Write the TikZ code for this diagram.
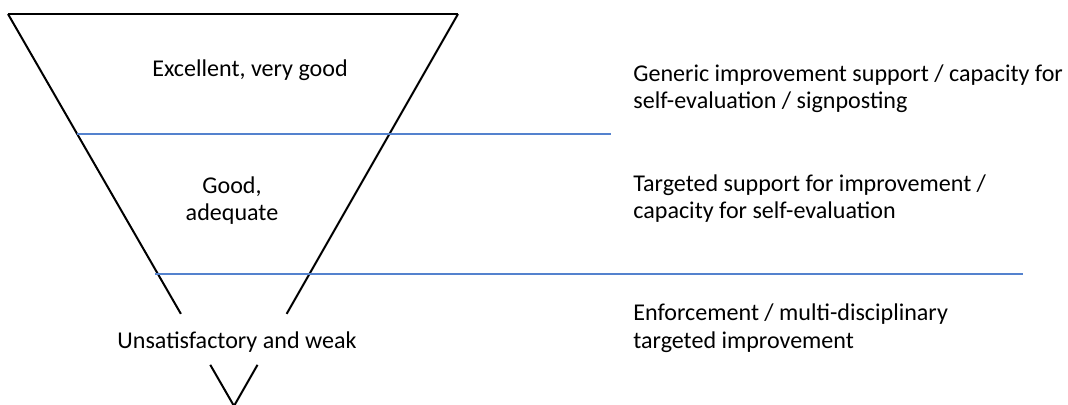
\documentclass[tikz,border=0pt]{standalone}
\usepackage{fontspec}
\setmainfont{Carlito}
\usetikzlibrary{calc}
\definecolor{bandline}{RGB}{84,130,206}
\begin{document}
\begin{tikzpicture}[x=0.2mm,y=-0.2mm,
    edge/.style={line width=0.4mm},
    band/.style={bandline,line width=0.35mm},
    lbl/.style={inner sep=0pt,font=\fontsize{13.7}{15.9}\selectfont},
    note/.style={lbl,anchor=base west,align=left}]
    \useasboundingbox (0,0) rectangle (1068,405);
    % Funnel
    \coordinate (tl) at (8,14);
    \coordinate (tr) at (458,14);
    \coordinate (apex) at (234,406);
    \draw[edge] (tl) -- (tr);
    \draw[edge] (tl) -- ($(tl)!0.765!(apex)$);
    \draw[edge] (tr) -- ($(tr)!0.765!(apex)$);
    \draw[edge] ($(tl)!0.895!(apex)$) -- (apex) -- ($(tr)!0.895!(apex)$);
    % Band lines
    \draw[band] (77,134) -- (611,134);
    \draw[band] (155,274) -- (1023,274);
    % Levels (base anchor sits on the last line)
    \node[lbl,anchor=base] (excellent) at (250,77) {Excellent, very good};
    \node[lbl,anchor=base,align=center] (good) at (232,221) {Good,\\adequate};
    \node[lbl,anchor=base] (weak) at (237,348) {Unsatisfactory and weak};
    % Responses
    \node[note] (generic) at (633,109) {Generic improvement support / capacity for\\self-evaluation / signposting};
    \node[note] (targeted) at (633,219) {Targeted support for improvement /\\capacity for self-evaluation};
    \node[note] (enforce) at (633,348) {Enforcement / multi-disciplinary\\targeted improvement};
\end{tikzpicture}
\end{document}
